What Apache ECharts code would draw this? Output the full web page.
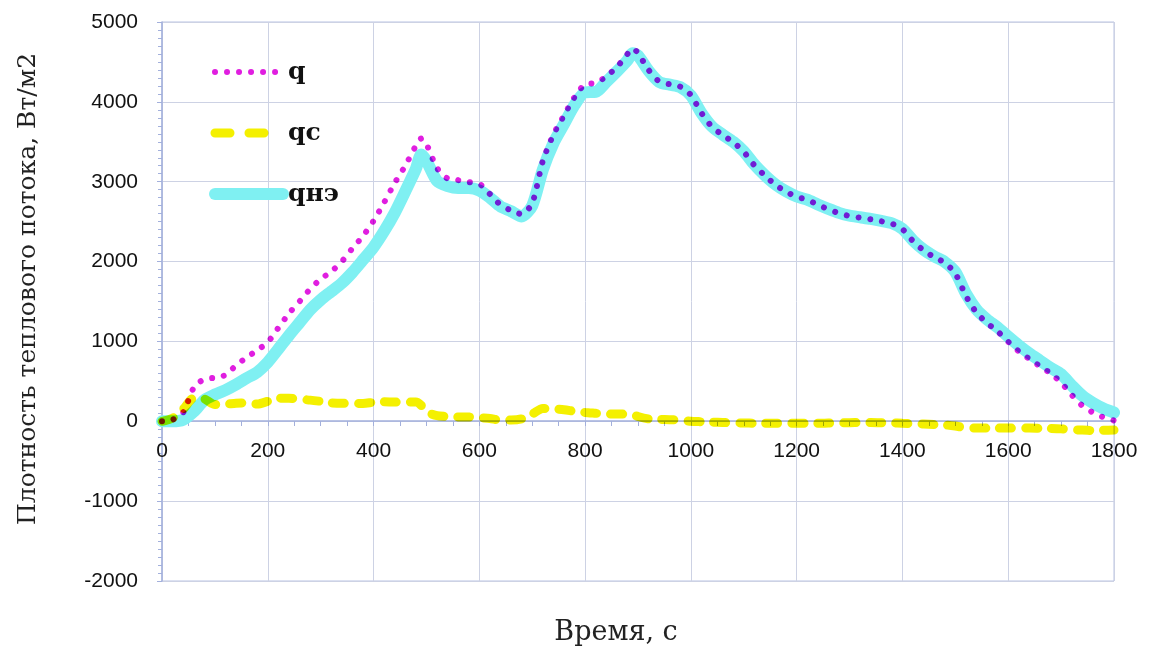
<!DOCTYPE html>
<html>
<head>
<meta charset="utf-8">
<script src="https://cdn.jsdelivr.net/npm/echarts@6/dist/echarts.min.js"></script>
<style>
html,body{margin:0;padding:0;background:#fff;}
#chart{width:1161px;height:654px;}
</style>
</head>
<body>
<div id="chart"></div>
<script>
// time, s
var times = [0,20,40,60,80,100,120,140,160,180,200,220,240,260,280,300,320,340,360,380,400,420,440,460,480,
  490,
  500,520,540,560,580,600,620,640,660,680,700,720,740,760,780,800,820,840,860,880,
  890,
  900,920,940,960,980,1000,1020,1040,1060,1080,1100,1120,1140,1160,1180,1200,1220,1240,1260,1280,1300,1320,1340,1360,1380,1400,1420,1440,1460,1480,1500,1520,1540,1560,1580,1600,1620,1640,1660,1680,1700,1720,1740,1760,1780,1800];

var qValues = [0,20,110,420,530,545,580,700,800,890,990,1170,1350,1500,1655,1780,1875,2000,2165,2320,2510,2740,2985,3200,3450,
  3540,
  3470,3170,3040,3020,2995,2975,2845,2710,2640,2595,2730,3260,3590,3830,4060,4220,4235,4320,4435,4600,
  4670,
  4610,4400,4255,4220,4190,4085,3860,3685,3585,3495,3375,3205,3075,2960,2875,2810,2775,2710,2655,2605,2570,2550,2530,2505,2475,2405,2255,2140,2055,1985,1850,1570,1360,1230,1125,995,875,780,690,600,485,330,195,110,50,10];

var qneValues = [0,0,20,120,265,335,390,460,540,615,740,905,1075,1235,1395,1520,1625,1730,1865,2020,2180,2380,2610,2880,3160,
  3340,
  3260,3010,2945,2920,2920,2890,2800,2690,2630,2565,2700,3150,3480,3720,3960,4120,4125,4250,4380,4520,
  4610,
  4580,4390,4250,4215,4185,4080,3860,3690,3590,3500,3380,3215,3080,2965,2880,2815,2775,2715,2660,2610,2575,2555,2535,2510,2480,2410,2265,2150,2065,1995,1870,1600,1400,1275,1175,1060,950,850,760,670,590,450,320,230,160,110];

var qcValues = [0,40,150,290,280,210,215,225,230,215,250,290,290,275,265,250,230,225,225,222,238,245,240,240,240,
  200,
  120,70,60,55,55,45,35,15,15,30,90,160,155,145,125,110,100,90,90,90,
  85,
  60,30,25,20,15,0,-5,-10,-15,-20,-20,-25,-25,-25,-25,-25,-25,-25,-22,-20,-18,-15,-15,-18,-20,-25,-30,-35,-40,-45,-60,-80,-85,-85,-85,-85,-85,-85,-88,-90,-95,-105,-110,-115,-112,-110];

var seriesNames = ['q', 'qc', 'qнэ'];
var xTitle = 'Время, с';
var yTitle = 'Плотность теплового потока, Вт/м2';

var C_Q = '#e01ee0', C_QC = '#f4f000', C_QNE = '#7ff0f2';

function pairs(vals){ return times.map(function(t,i){ return [t, vals[i]]; }); }
function plain(v){ return String(v); }

var chart = echarts.init(document.getElementById('chart'), null, {renderer:'canvas'});
var option = {
  animation: false,
  backgroundColor: '#ffffff',
  grid: {left:162, right:47, top:22, bottom:73, show:true, borderColor:'#b9c3e2', borderWidth:1, backgroundColor:'#ffffff'},
  legend: {
    orient:'vertical', left:204, top:52, itemWidth:68, itemHeight:14, itemGap:31,
    data: [
      {name:seriesNames[0], itemStyle:{opacity:0}, lineStyle:{color:C_Q, width:6, type:[0.01,12], cap:'round'}},
      {name:seriesNames[1], itemStyle:{opacity:0}, lineStyle:{color:C_QC, width:9, type:[15,19], cap:'round'}},
      {name:seriesNames[2], itemStyle:{opacity:0}, lineStyle:{color:C_QNE, width:12, cap:'round'}}
    ],
    textStyle:{fontFamily:'DejaVu Serif', fontWeight:'bold', fontSize:25, color:'#111', lineHeight:30}
  },
  xAxis: {
    type:'value', min:0, max:1800, interval:200, position:'bottom', offset:-160,
    axisLine:{onZero:false, lineStyle:{color:'#a3b0dc', width:1.5}},
    axisTick:{show:true, inside:false, length:5, lineStyle:{color:'#a3b0dc'}},
    minorTick:{show:true, splitNumber:4, length:5, lineStyle:{color:'#a3b0dc'}},
    axisLabel:{fontFamily:'Liberation Sans', fontSize:21, color:'#111', margin:20, formatter:plain},
    splitLine:{show:true, lineStyle:{color:'#cdd2e4', width:1}}
  },
  yAxis: {
    type:'value', min:-2000, max:5000, interval:1000,
    axisLine:{show:true, lineStyle:{color:'#a3b0dc', width:1.5}},
    axisTick:{show:true, length:5, lineStyle:{color:'#a3b0dc'}},
    minorTick:{show:true, splitNumber:10, length:4, lineStyle:{color:'#a3b0dc'}},
    axisLabel:{fontFamily:'Liberation Sans', fontSize:21, color:'#111', margin:24, formatter:plain},
    splitLine:{show:true, lineStyle:{color:'#cdd2e4', width:1}}
  },
  graphic: [
    {type:'text', x:616, y:633, style:{text:xTitle, font:'27px "DejaVu Serif"', fill:'#222', align:'center', verticalAlign:'middle'}},
    {type:'text', x:28, y:289, rotation:Math.PI/2, style:{text:yTitle, font:'25px "DejaVu Serif"', fill:'#222', align:'center', verticalAlign:'middle'}}
  ],
  series: [
    {name:seriesNames[2], type:'line', data:pairs(qneValues), symbol:'none', smooth:0.25, z:2,
     lineStyle:{color:C_QNE, width:12, cap:'round', join:'round'}, itemStyle:{color:C_QNE}},
    {name:seriesNames[1], type:'line', data:pairs(qcValues), symbol:'none', smooth:0.25, z:3,
     lineStyle:{color:C_QC, width:9, type:[12,14], cap:'round'}, itemStyle:{color:C_QC}},
    {name:seriesNames[0], type:'line', data:pairs(qValues), symbol:'none', smooth:0.25, z:4,
     lineStyle:{color:C_Q, width:6, type:[0.01,12], cap:'round'}, itemStyle:{color:C_Q}}
  ]
};
chart.setOption(option);

// multiply blending of overlapping strokes, like the original rendering
function applyBlend(){
  var list = chart.getZr().storage.getDisplayList(true);
  list.forEach(function(el){
    var s = el.style || {};
    if (s.stroke === C_Q || s.stroke === C_QC) { s.blend = 'multiply'; el.markRedraw(); }
  });
  chart.getZr().refreshImmediately();
}
applyBlend();
</script>
</body>
</html>
